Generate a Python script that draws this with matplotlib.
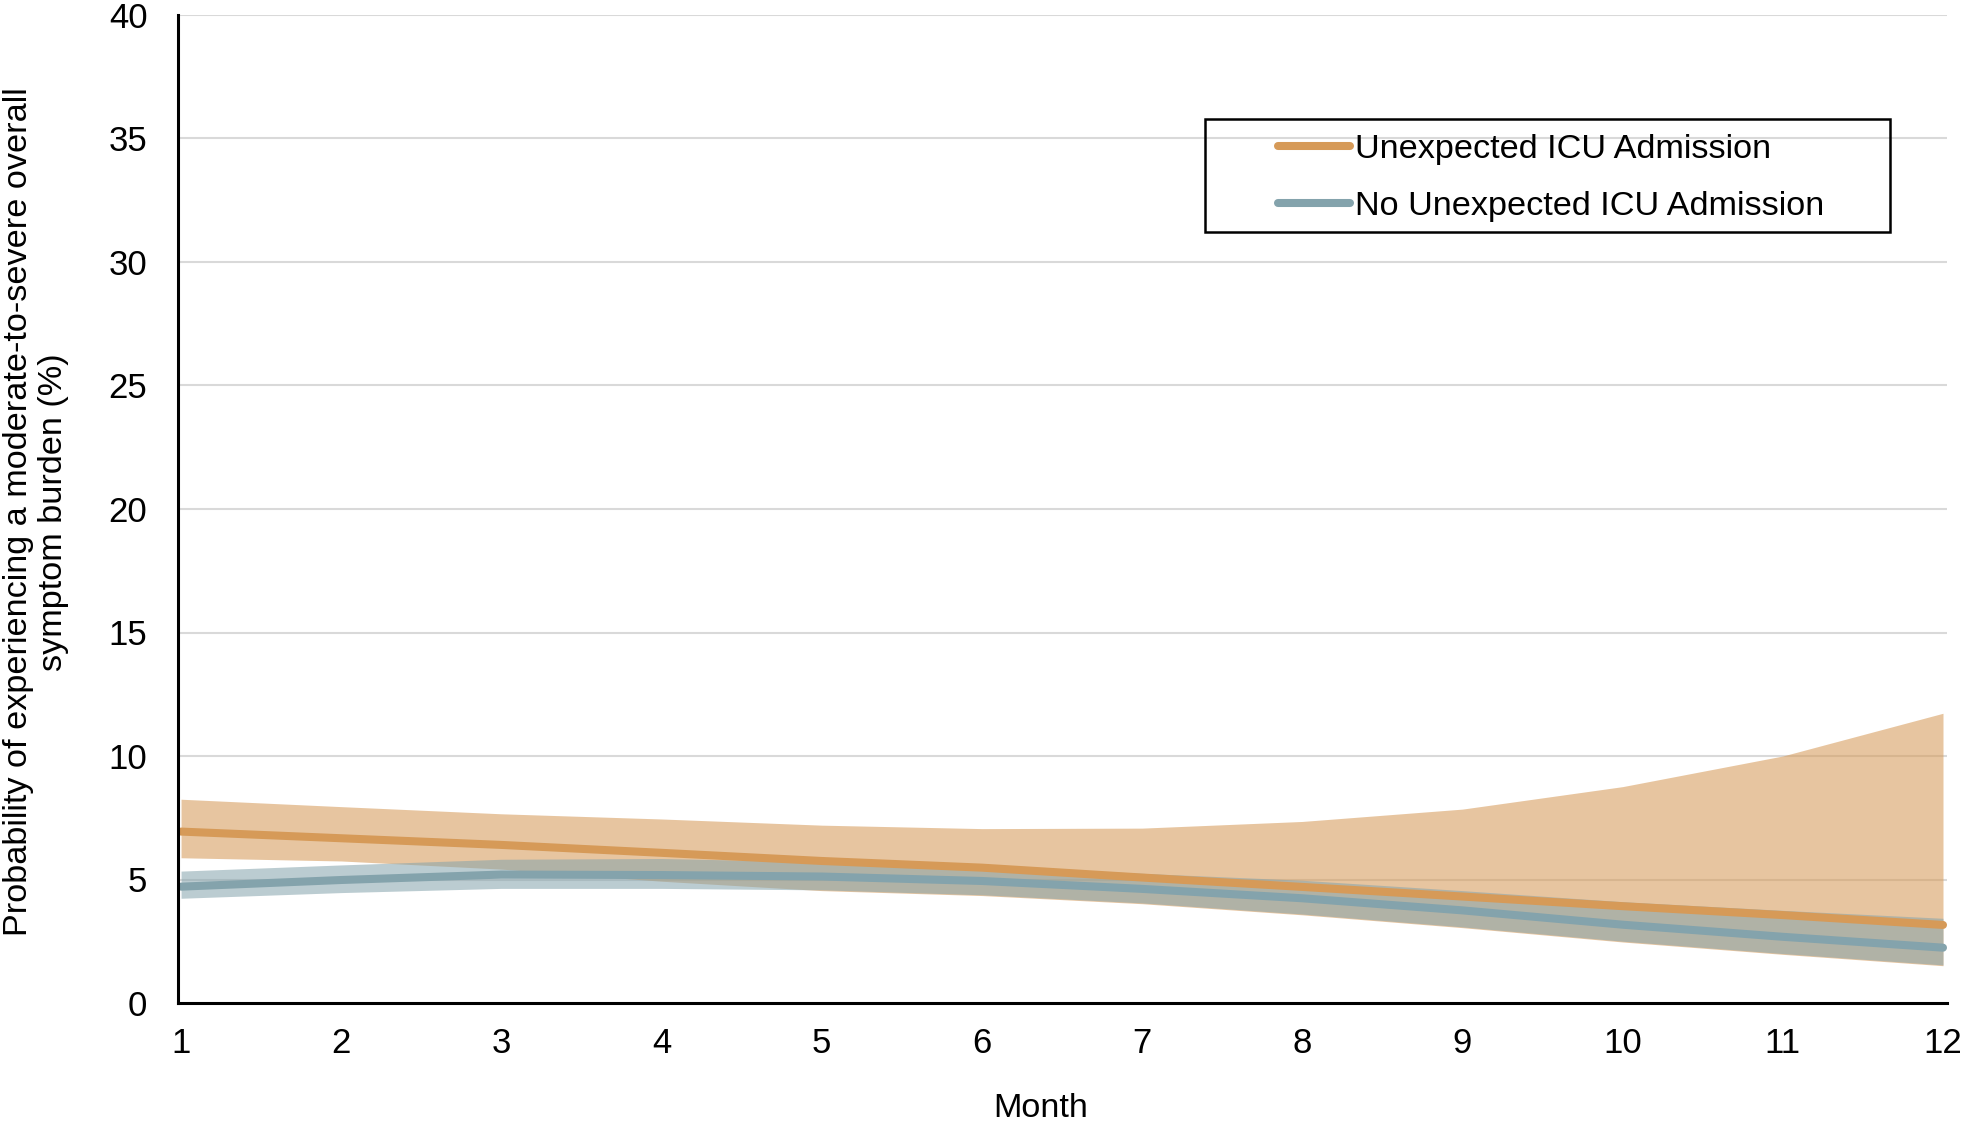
import matplotlib
matplotlib.use("Agg")
import matplotlib.pyplot as plt
from matplotlib.patches import Rectangle

plt.rcParams['font.family'] = ['Liberation Sans', 'DejaVu Sans']

# Data (probability, %)
months = [1, 2, 3, 4, 5, 6, 7, 8, 9, 10, 11, 12]

icu_mean = [6.94, 6.67, 6.40, 6.08, 5.75, 5.48, 5.08, 4.70, 4.31, 3.92, 3.56, 3.16]
icu_upper = [8.25, 7.95, 7.66, 7.45, 7.20, 7.06, 7.08, 7.35, 7.85, 8.76, 10.0, 11.73]
icu_lower = [5.88, 5.75, 5.42, 4.93, 4.55, 4.35, 4.02, 3.57, 3.05, 2.47, 1.97, 1.51]

no_icu_mean = [4.71, 4.98, 5.20, 5.18, 5.12, 4.94, 4.62, 4.24, 3.75, 3.17, 2.68, 2.24]
no_icu_upper = [5.34, 5.59, 5.82, 5.85, 5.72, 5.55, 5.25, 4.97, 4.55, 4.10, 3.75, 3.43]
no_icu_lower = [4.24, 4.47, 4.64, 4.64, 4.58, 4.38, 4.05, 3.60, 3.08, 2.50, 2.00, 1.54]

labels = ["Unexpected ICU Admission", "No Unexpected ICU Admission"]
yticks = [0, 5, 10, 15, 20, 25, 30, 35, 40]

ORANGE = "#D69A58"
BLUE = "#84A3AC"
FS = 24.7

fig = plt.figure(figsize=(19.61, 11.26), dpi=100)
ax = fig.add_axes([178 / 1961, 1 - 1003 / 1126, (1947 - 178) / 1961, (1003 - 15) / 1126])

# gridlines behind everything
for yv in yticks[1:]:
    ax.axhline(yv, color="#D9D9D9", lw=1.5, zorder=0)

ax.fill_between(months, icu_lower, icu_upper, color=ORANGE, alpha=0.57, lw=0, zorder=1)
ax.fill_between(months, no_icu_lower, no_icu_upper, color=BLUE, alpha=0.55, lw=0, zorder=2)
ax.plot(months, icu_mean, color=ORANGE, lw=5.8, solid_capstyle="round", zorder=3, label=labels[0])
ax.plot(months, no_icu_mean, color=BLUE, lw=5.8, solid_capstyle="round", zorder=4, label=labels[1])

ax.set_xlim(0.981, 12.025)
ax.set_ylim(0, 40)
ax.set_xticks(months)
ax.set_yticks(yticks)
ax.tick_params(axis="both", length=0, labelsize=25)
ax.tick_params(axis="x", pad=17)
ax.tick_params(axis="y", pad=22)

for side in ["top", "right"]:
    ax.spines[side].set_visible(False)
for side in ["left", "bottom"]:
    ax.spines[side].set_linewidth(2.2)
    ax.spines[side].set_color("black")
    ax.spines[side].set_zorder(5)

# x label sits just above the bottom edge
fig.text(1041 / 1961, 0.002, "Month", ha="center", va="bottom", fontsize=FS)
fig.text(36 / 1961, 1 - 512 / 1126,
         "Probability of experiencing a moderate-to-severe overall\nsymptom burden (%)",
         rotation=90, ha="center", va="center", multialignment="center",
         fontsize=FS, linespacing=1.2)

# legend without its own frame, box drawn separately
leg = ax.legend(loc="center left", bbox_to_anchor=(1278 / 1961, 1 - 178 / 1126),
                bbox_transform=fig.transFigure, frameon=False, fontsize=FS,
                handlelength=2.1, handletextpad=0.15, labelspacing=0.74,
                borderpad=0, borderaxespad=0)
fig.patches.append(Rectangle((1205 / 1961, 1 - 232 / 1126), (1890 - 1205) / 1961, (232 - 119) / 1126,
                             transform=fig.transFigure, fill=False, edgecolor="black", lw=1.8, zorder=10))

fig.savefig("out.png", dpi=100)
